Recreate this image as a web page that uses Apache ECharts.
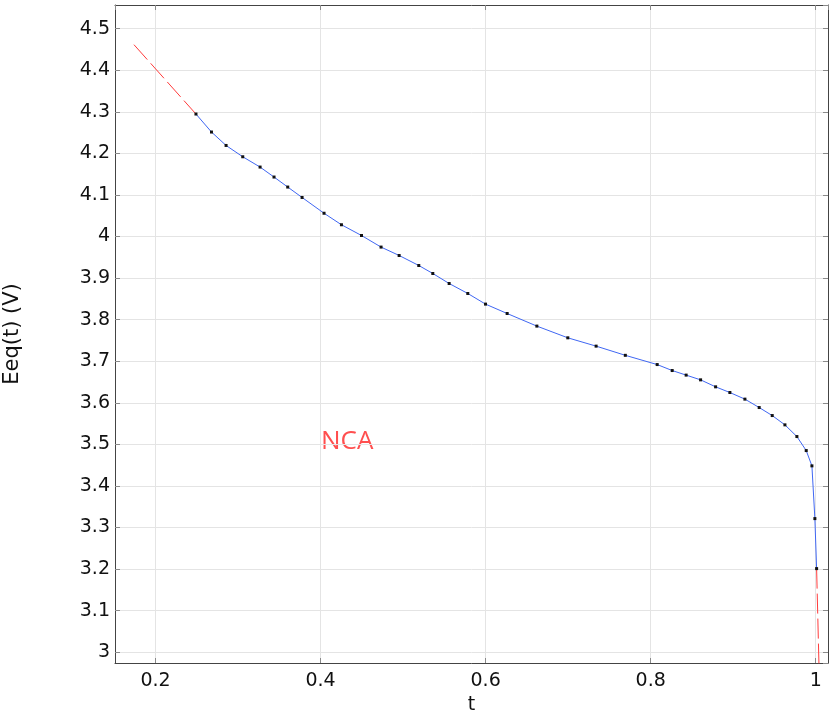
<!DOCTYPE html>
<html>
<head>
<meta charset="utf-8">
<script src="https://cdn.jsdelivr.net/npm/echarts@6/dist/echarts.min.js"></script>
<style>
html,body{margin:0;padding:0;background:#fff;}
#chart{width:829px;height:712px;}
</style>
</head>
<body>
<div id="chart"></div>
<script>
// t values of the computed (blue) curve with markers
const tValues = [0.249,0.2678,0.2855,0.3057,0.3267,0.3436,0.3602,0.3776,0.4042,0.4253,0.4496,0.4733,0.4952,0.519,0.536,0.5558,0.5784,0.5999,0.6261,0.6621,0.6996,0.7339,0.7693,0.8079,0.8261,0.843,0.8605,0.8787,0.896,0.9142,0.9315,0.9473,0.9627,0.9772,0.9885,0.9954,0.999,1.0011];
// Eeq(t) values (V)
const eqValues = [4.2947,4.2514,4.2191,4.1919,4.1671,4.1431,4.119,4.094,4.056,4.0283,4.0025,3.9746,3.9544,3.9303,3.9111,3.887,3.863,3.8374,3.8148,3.7845,3.7563,3.7363,3.7142,3.692,3.6776,3.6666,3.6552,3.6384,3.6247,3.6088,3.5886,3.5693,3.5469,3.5188,3.4851,3.4483,3.3214,3.2011];
// extrapolated (dashed red) segments
const extrapStartT = [0.1739,0.249];
const extrapStartE = [4.4615,4.2947];
const extrapEndT = [1.0011,1.0042];
const extrapEndE = [3.2011,2.95];
const xRange = [0.1509,1.0149];
const yRange = [2.974,4.557];
const annotation = 'NCA';

const zip = (a,b) => a.map((v,i)=>[v,b[i]]);

const chart = echarts.init(document.getElementById('chart'), null, {renderer:'canvas'});
const FONT = 'DejaVu Sans';
const tickStyle = {show:true, inside:true, length:5, lineStyle:{color:'#8a8a8a', width:1}};
const lineStyle = {show:true, lineStyle:{color:'#444', width:1}};
const split = {show:true, lineStyle:{color:'#e4e4e4', width:1}};

chart.setOption({
  animation:false,
  backgroundColor:'#fff',
  grid:{left:115, right:1, top:5, bottom:49, containLabel:false, outerBoundsMode:'none'},
  xAxis:[{
    type:'value', min:xRange[0], max:xRange[1], minInterval:0.2, maxInterval:0.2,
    axisLine:lineStyle, axisTick:tickStyle, splitLine:split,
    axisLabel:{fontFamily:FONT, fontSize:19, color:'#111', margin:9, showMinLabel:false, showMaxLabel:false},
    name:'t', nameLocation:'middle', nameGap:28,
    nameTextStyle:{fontFamily:FONT, fontSize:19, color:'#111'}
  },{
    type:'value', position:'top', min:xRange[0], max:xRange[1], minInterval:0.2, maxInterval:0.2,
    axisLine:lineStyle, axisTick:tickStyle, splitLine:{show:false}, axisLabel:{show:false}
  }],
  yAxis:[{
    type:'value', min:yRange[0], max:yRange[1], minInterval:0.1, maxInterval:0.1,
    axisLine:lineStyle, axisTick:tickStyle, splitLine:split,
    axisLabel:{fontFamily:FONT, fontSize:19, color:'#111', margin:5, showMinLabel:false, showMaxLabel:false},
    name:'Eeq(t) (V)', nameLocation:'middle', nameGap:92,
    nameTextStyle:{fontFamily:FONT, fontSize:21, color:'#111'}
  },{
    type:'value', position:'right', min:yRange[0], max:yRange[1], minInterval:0.1, maxInterval:0.1,
    axisLine:lineStyle, axisTick:tickStyle, splitLine:{show:false}, axisLabel:{show:false}
  }],
  series:[{
    type:'line', data:zip(extrapStartT, extrapStartE), symbol:'none', silent:true,
    lineStyle:{color:'#ff3b3b', width:1, type:[20,5]}
  },{
    type:'line', data:zip(extrapEndT, extrapEndE), symbol:'none', silent:true, clip:true,
    lineStyle:{color:'#ff3b3b', width:1, type:[20,5]}
  },{
    type:'line', data:zip(tValues, eqValues), showAllSymbol:true,
    symbol:'rect', symbolSize:3,
    itemStyle:{color:'#111'},
    lineStyle:{color:'#4067f3', width:1}
  }],
  graphic:[{
    type:'text', left:321, top:429,
    style:{text:annotation, fill:'#ff4f4f', font:'26px "Open Sans"'}
  }]
});
</script>
</body>
</html>
